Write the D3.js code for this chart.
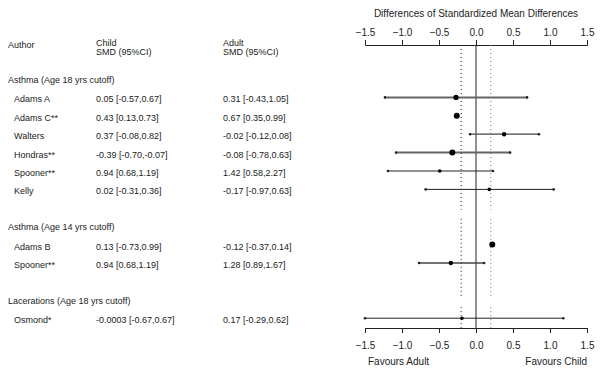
<!DOCTYPE html>
<html>
<head>
<meta charset="utf-8">
<script src="https://cdn.jsdelivr.net/npm/d3@7/dist/d3.min.js"></script>
<style>
	body { margin: 0; background: #fff; }
	svg { display: block; }
	text { font-family: "Liberation Sans", Arial, sans-serif; fill: #222; }
	.tbl { font-size: 9px; }
	.axis text { font-size: 10px; fill: #222; }
	.axis path, .axis line { stroke: #222; }
</style>
</head>
<body>
<svg id="forest"></svg>
<script>
// data
let groups = ['Asthma (Age 18 yrs cutoff)', 'Asthma (Age 14 yrs cutoff)', 'Lacerations (Age 18 yrs cutoff)'];
let groupSlot = [0, 8, 12];
let authors = ['Adams A', 'Adams C**', 'Walters', 'Hondras**', 'Spooner**', 'Kelly', 'Adams B', 'Spooner**', 'Osmond*'];
let studySlot = [1, 2, 3, 4, 5, 6, 9, 10, 13];
let childSMD = ['0.05 [-0.57,0.67]', '0.43 [0.13,0.73]', '0.37 [-0.08,0.82]', '-0.39 [-0.70,-0.07]', '0.94 [0.68,1.19]',
	'0.02 [-0.31,0.36]', '0.13 [-0.73,0.99]', '0.94 [0.68,1.19]', '-0.0003 [-0.67,0.67]'];
let adultSMD = ['0.31 [-0.43,1.05]', '0.67 [0.35,0.99]', '-0.02 [-0.12,0.08]', '-0.08 [-0.78,0.63]', '1.42 [0.58,2.27]',
	'-0.17 [-0.97,0.63]', '-0.12 [-0.37,0.14]', '1.28 [0.89,1.67]', '0.17 [-0.29,0.62]'];
let diff = [-0.27, -0.26, 0.38, -0.32, -0.49, 0.18, 0.22, -0.34, -0.19];
let lower = [-1.23, -0.27, -0.08, -1.08, -1.19, -0.68, 0.21, -0.77, -1.5];
let upper = [0.69, -0.25, 0.85, 0.46, 0.23, 1.05, 0.23, 0.11, 1.18];
let weight = [3, 4, 2, 4, 1, 1, 4, 2, 1];
let ticks = [-1.5, -1.0, -0.5, 0.0, 0.5, 1.0, 1.5];
let thresholds = [-0.2, 0.2];

function makeChart() {
	let w = 600;
	let h = 376;

	let chart = d3.select('#forest')
		.attr('width', w)
		.attr('height', h);

	let x = d3.scaleLinear().domain([-1.5, 1.5]).range([365, 587]);
	let y = d3.scaleLinear().domain([0, 13]).range([79, 318.2]);
	let r = d3.scaleLinear().domain([1, 4]).range([1.8, 3]);
	let topY = 45;
	let botY = 328;

	// header
	chart.append('text').attr('class', 'tbl').attr('x', 8).attr('y', 48).text('Author');
	chart.append('text').attr('class', 'tbl').attr('x', 96).attr('y', 46).text('Child');
	chart.append('text').attr('class', 'tbl').attr('x', 96).attr('y', 55).text('SMD (95%CI)');
	chart.append('text').attr('class', 'tbl').attr('x', 223).attr('y', 46).text('Adult');
	chart.append('text').attr('class', 'tbl').attr('x', 223).attr('y', 55).text('SMD (95%CI)');

	chart.selectAll('.grp')
		.data(groups)
		.enter()
		.append('text')
		.attr('class', 'tbl grp')
		.attr('x', 8)
		.attr('y', (d, i) => y(groupSlot[i]) + 4)
		.text(d => d);

	let rows = authors.map((a, i) => ({
		author: a, child: childSMD[i], adult: adultSMD[i],
		est: diff[i], lo: lower[i], hi: upper[i], wt: weight[i], slot: studySlot[i]
	}));

	chart.selectAll('.auth')
		.data(rows)
		.enter()
		.append('text')
		.attr('class', 'tbl auth')
		.attr('x', 14)
		.attr('y', d => y(d.slot) + 5)
		.text(d => d.author);

	chart.selectAll('.child')
		.data(rows)
		.enter()
		.append('text')
		.attr('class', 'tbl child')
		.attr('x', 96)
		.attr('y', d => y(d.slot) + 5)
		.text(d => d.child);

	chart.selectAll('.adult')
		.data(rows)
		.enter()
		.append('text')
		.attr('class', 'tbl adult')
		.attr('x', 223)
		.attr('y', d => y(d.slot) + 5)
		.text(d => d.adult);

	// axes
	chart.append('text')
		.attr('x', x(0))
		.attr('y', 17)
		.style('text-anchor', 'middle')
		.style('font-size', '10px')
		.text('Differences of Standardized Mean Differences');

	let top = chart.append('g')
		.attr('class', 'axis')
		.attr('transform', `translate(0,${topY})`)
		.call(d3.axisTop(x).tickValues(ticks).tickFormat(d3.format('.1f')).tickSizeOuter(5).tickSize(5).tickPadding(4));
	top.selectAll('text').style('font-family', '"Liberation Sans", Arial, sans-serif');

	let bot = chart.append('g')
		.attr('class', 'axis')
		.attr('transform', `translate(0,${botY})`)
		.call(d3.axisBottom(x).tickValues(ticks).tickFormat(d3.format('.1f')).tickSizeOuter(5).tickSize(5).tickPadding(9));
	bot.selectAll('text').style('font-family', '"Liberation Sans", Arial, sans-serif');

	chart.append('text').attr('x', 368).attr('y', 365).style('font-size', '10px').text('Favours Adult');
	chart.append('text').attr('x', 587).attr('y', 365).style('font-size', '10px')
		.style('text-anchor', 'end').text('Favours Child');

	// reference lines
	let gaps = [[topY, y(7.1)], [y(7.6), y(11.8)], [y(12.4), botY]];
	thresholds.forEach((t, k) => {
		chart.selectAll('.dot' + k)
			.data(gaps)
			.enter()
			.append('line')
			.attr('x1', x(t)).attr('x2', x(t))
			.attr('y1', d => d[0]).attr('y2', d => d[1])
			.style('stroke', k === 0 ? '#111' : '#777')
			.style('stroke-width', 1)
			.style('stroke-dasharray', '1,3');
	});

	chart.append('line')
		.attr('x1', x(0)).attr('x2', x(0))
		.attr('y1', topY).attr('y2', botY)
		.style('stroke', '#222')
		.style('stroke-width', 1);

	// CIs
	chart.selectAll('.ci')
		.data(rows)
		.enter()
		.append('line')
		.attr('class', 'ci')
		.attr('x1', d => x(d.lo)).attr('x2', d => x(d.hi))
		.attr('y1', d => y(d.slot)).attr('y2', d => y(d.slot))
		.style('stroke', d => d.wt >= 3 ? '#666' : (d.wt === 2 ? '#444' : '#222'))
		.style('stroke-width', d => d.wt >= 3 ? 2 : (d.wt === 2 ? 1.3 : 1));

	chart.selectAll('.capl')
		.data(rows.filter(d => d.hi - d.lo > 0.1))
		.enter()
		.append('circle')
		.attr('cx', d => x(d.lo)).attr('cy', d => y(d.slot)).attr('r', 1.3)
		.style('fill', '#222');

	chart.selectAll('.capr')
		.data(rows.filter(d => d.hi - d.lo > 0.1))
		.enter()
		.append('circle')
		.attr('cx', d => x(d.hi)).attr('cy', d => y(d.slot)).attr('r', 1.3)
		.style('fill', '#222');

	chart.selectAll('.pt')
		.data(rows)
		.enter()
		.append('circle')
		.attr('class', 'pt')
		.attr('cx', d => x(d.est))
		.attr('cy', d => y(d.slot))
		.attr('r', d => r(d.wt))
		.style('fill', '#000');
}

window.onload = function () {
	makeChart();
}
</script>
</body>
</html>
